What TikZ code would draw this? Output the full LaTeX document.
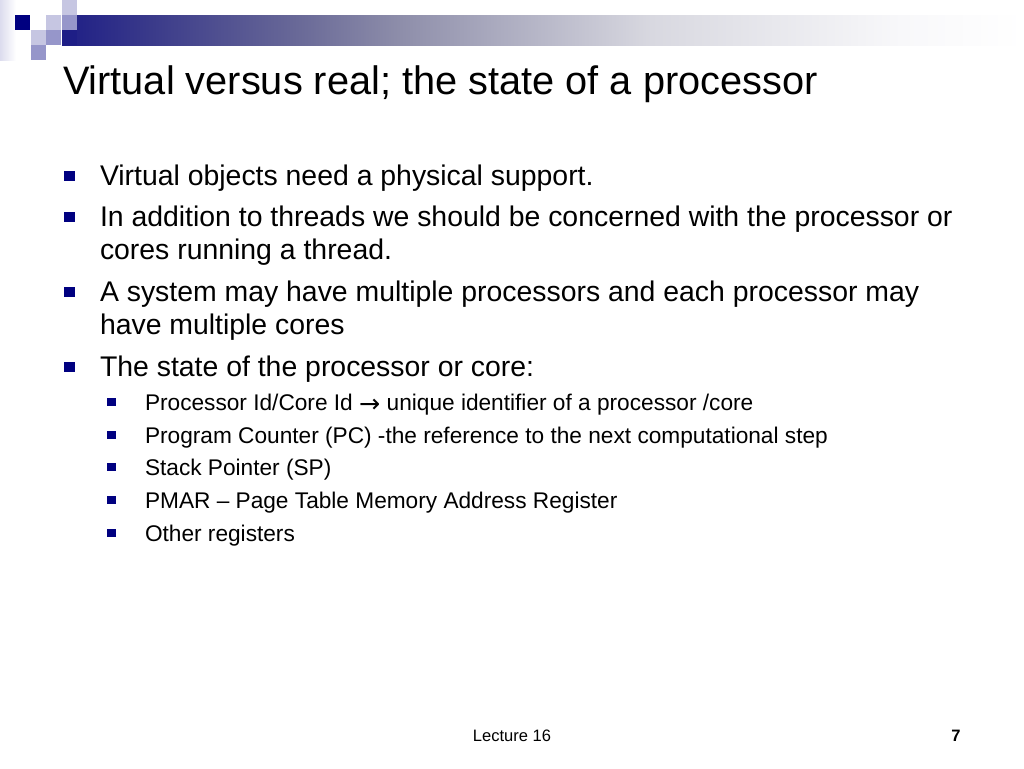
\documentclass[tikz,border=0pt]{standalone}
\usepackage{fontspec}
\setmainfont{Liberation Sans}
\newfontfamily\arrowfont{DejaVu Sans}
\definecolor{navy}{HTML}{000080}
\definecolor{sqlight}{HTML}{C6C6E2}
\definecolor{sqmid}{HTML}{9696CA}
\definecolor{sqdark}{HTML}{1E1E86}
\definecolor{sqfaint}{HTML}{DCDCEE}
\definecolor{barA}{HTML}{3A3A8A}
\definecolor{barB}{HTML}{6A6A98}
\definecolor{barC}{HTML}{8E8EAA}
\definecolor{barD}{HTML}{D8D8E0}
\definecolor{barE}{HTML}{F8F8FA}
\pgfdeclarehorizontalshading{barshade}{100bp}{%
  color(0bp)=(sqdark); color(25bp)=(sqdark);
  color(29.6bp)=(barA); color(37.4bp)=(barB);
  color(42.6bp)=(barC); color(55.6bp)=(barD);
  color(68.6bp)=(barE); color(75bp)=(white); color(100bp)=(white)}
\tikzset{
  txt/.style={anchor=base west, inner sep=0pt, outer sep=0pt},
  titletxt/.style={txt, font=\fontsize{29.8}{36}\selectfont},
  bodytxt/.style={txt, font=\fontsize{21.3}{26}\selectfont},
  subtxt/.style={txt, font=\fontsize{17}{21}\selectfont},
  foot/.style={anchor=base, inner sep=0pt, font=\fontsize{12.4}{15}\selectfont},
  bulletA/.style={fill=navy, draw=none, minimum size=8.2pt, inner sep=0pt, shape=rectangle},
  bulletB/.style={fill=navy, draw=none, minimum size=6.4pt, inner sep=0pt, shape=rectangle},
}
\begin{document}
\begin{tikzpicture}[x=0.75pt,y=-0.75pt]
\useasboundingbox (0,0) rectangle (1024,768);
% decoration
\shade[left color=sqfaint, right color=white] (0,0) rectangle (16,60);
\shade[shading=barshade] (62,15) rectangle (1024,45);
\fill[sqlight] (62,0) rectangle (77,15);
\fill[navy] (15,15) rectangle (30,30);
\fill[sqlight] (46,15) rectangle (61,30);
\fill[sqmid] (62,15) rectangle (77,30);
\fill[sqlight] (31,30) rectangle (46,45);
\fill[sqmid] (46,30) rectangle (61,45);
\fill[sqdark] (62,30) rectangle (77,45);
\fill[sqmid] (31,45) rectangle (46,60);
% title
\node[titletxt] (title) at (63,94) {Virtual versus real; the state of a processor};
% main bullets
\node[bulletA] (b1) at (69.5,176) {};
\node[bodytxt] (t1) at (100,185.5) {Virtual objects need a physical support.};
\node[bulletA] (b2) at (69.5,217) {};
\node[bodytxt] (t2a) at (100,226.5) {In addition to threads we should be concerned with the processor or};
\node[bodytxt] (t2b) at (100,259.5) {cores running a thread.};
\node[bulletA] (b3) at (69.5,292) {};
\node[bodytxt] (t3a) at (100,301.5) {A system may have multiple processors and each processor may};
\node[bodytxt] (t3b) at (100,334.5) {have multiple cores};
\node[bulletA] (b4) at (69.5,367) {};
\node[bodytxt] (t4) at (100,376.5) {The state of the processor or core:};
% sub bullets
\node[bulletB] (s1) at (111.5,402) {};
\node[subtxt] (u1) at (145,410) {Processor Id/Core Id \raisebox{-2.2pt}{\arrowfont\fontsize{19}{21}\selectfont →} unique identifier of a processor /core};
\node[bulletB] (s2) at (111.5,435) {};
\node[subtxt] (u2) at (145,443) {Program Counter (PC) -the reference to the next computational step};
\node[bulletB] (s3) at (111.5,467) {};
\node[subtxt] (u3) at (145,475) {Stack Pointer (SP)};
\node[bulletB] (s4) at (111.5,500) {};
\node[subtxt] (u4) at (145,508) {PMAR – Page Table Memory Address Register};
\node[bulletB] (s5) at (111.5,533) {};
\node[subtxt] (u5) at (145,541) {Other registers};
% footer
\node[foot] (lect) at (512,741) {Lecture 16};
\node[foot, font=\fontsize{12.4}{15}\selectfont\bfseries] (pg) at (956,741) {7};
\end{tikzpicture}
\end{document}
